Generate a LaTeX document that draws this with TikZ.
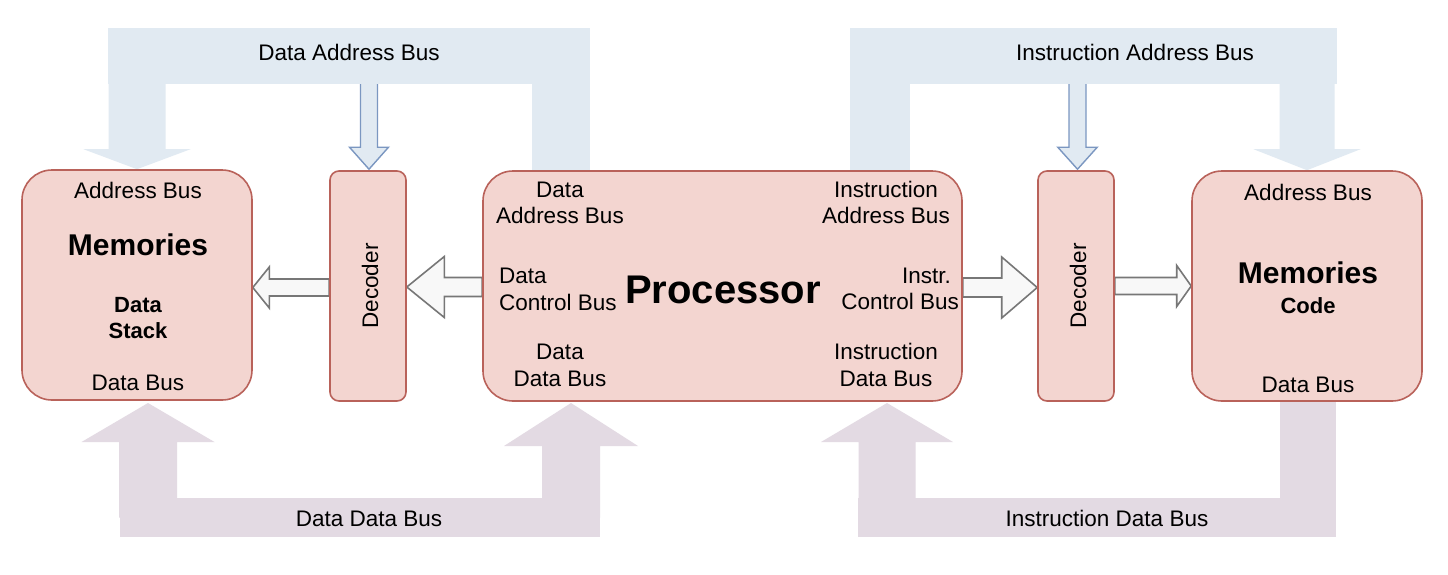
\documentclass[tikz,border=0pt]{standalone}
\usepackage{fontspec}
\setmainfont{Liberation Sans}
\usetikzlibrary{calc}
\definecolor{boxfill}{HTML}{F3D5D0}
\definecolor{boxline}{HTML}{B9625A}
\definecolor{busblue}{HTML}{E1EAF2}
\definecolor{buspurple}{HTML}{E3DAE3}
\definecolor{arrfill}{HTML}{F8F8F8}
\definecolor{arrline}{HTML}{777777}
\definecolor{decline}{HTML}{7B97C1}
\pgfdeclarelayer{paper}
\pgfdeclarelayer{lowest}
\pgfdeclarelayer{low}
\pgfsetlayers{paper,lowest,low,main}
\newcommand\vblk[6]{%
 \path[#1] ($(#3 |- #2)+(#4,0)$) -- ($(#3)+(#4,#6)$) -- ($(#3)+(#5,#6)$) -- (#3) -- ($(#3)+(-#5,#6)$) -- ($(#3)+(-#4,#6)$) -- ($(#3 |- #2)+(-#4,0)$) -- cycle;}
\newcommand\hblk[6]{%
 \path[#1] ($(#2 |- #3)+(0,-#4)$) -- ($(#3)+(#6,-#4)$) -- ($(#3)+(#6,-#5)$) -- (#3) -- ($(#3)+(#6,#5)$) -- ($(#3)+(#6,#4)$) -- ($(#2 |- #3)+(0,#4)$) -- cycle;}
\begin{document}
\begin{tikzpicture}[x=1pt,y=-1pt,
 box/.style={draw=boxline, fill=boxfill, line width=1.6pt, inner sep=0pt, minimum height=230pt},
 membox/.style={box, rounded corners=30pt, minimum width=230pt},
 decbox/.style={box, rounded corners=9pt, minimum width=76pt},
 procbox/.style={box, rounded corners=30pt, minimum width=479pt},
 txt/.style={font=\fontsize{22.5}{27}\selectfont, inner sep=0pt, anchor=base},
 btxt/.style={font=\fontsize{22}{26}\selectfont\bfseries, inner sep=0pt, anchor=base},
 mtxt/.style={font=\fontsize{30}{36}\selectfont\bfseries, inner sep=0pt, anchor=base},
 ptxt/.style={font=\fontsize{40}{48}\selectfont\bfseries, inner sep=0pt, anchor=base},
 busA/.style={fill=busblue},
 busD/.style={fill=buspurple},
 busbar/.style={inner sep=0pt, draw=none},
 midarrow/.style={draw=arrline, fill=arrfill, line width=1.6pt, line join=miter},
 decarrow/.style={draw=decline, fill=busblue, line width=1.4pt, line join=miter}]
\useasboundingbox (0,0) rectangle (1448,574);
\begin{pgfonlayer}{paper}
\fill[white] (0,0) rectangle (1448,574);
\end{pgfonlayer}

% boxes
\node[membox] (memL) at (137,285) {};
\node[decbox] (decL) at (368,286) {};
\node[procbox] (proc) at (722.5,286) {};
\node[decbox] (decR) at (1076,286) {};
\node[membox] (memR) at (1307,286) {};

\begin{pgfonlayer}{low}
% bus bars
\node[busbar, busA, minimum width=482pt, minimum height=56pt] (busDA) at (349,56) {};
\node[busbar, busA, minimum width=487pt, minimum height=56pt] (busIA) at (1093.5,56) {};
\node[busbar, busD, minimum width=480pt, minimum height=39pt] (busDD) at (360,517.5) {};
\node[busbar, busD, minimum width=478pt, minimum height=39pt] (busID) at (1097,517.5) {};
% bus legs
\vblk{busA}{busDA.center}{memL.north}{28.5}{53.5}{-20}
\fill[busA] (532,56) rectangle (590,172);
\fill[busA] (850,56) rectangle (910,172);
\vblk{busA}{busIA.center}{memR.north}{27.5}{53.5}{-21}
\coordinate (ddLt) at (148,403);
\coordinate (ddRt) at (571,403);
\coordinate (idLt) at (887,403);
\vblk{busD}{busDD.center}{ddLt}{29}{66.5}{39}
\vblk{busD}{busDD.center}{ddRt}{29}{67}{43}
\vblk{busD}{busID.center}{idLt}{28.5}{66}{39}
\fill[busD] (1280,400) rectangle (1336,518);
% horizontal block arrows
\coordinate (a1t) at ($(memL.east)+(0,2.5)$);
\coordinate (a2t) at ($(decL.east)+(0,1)$);
\coordinate (a3t) at ($(decR.west)+(0,1.5)$);
\coordinate (a4t) at ($(memR.west)+(0,0)$);
\hblk{midarrow}{decL.west}{a1t}{8.5}{20.5}{16.5}
\hblk{midarrow}{proc.west}{a2t}{9.5}{30.5}{37.5}
\hblk{midarrow}{proc.east}{a3t}{9.5}{30.5}{-35.5}
\hblk{midarrow}{decR.east}{a4t}{8.5}{20.5}{-14.5}
\end{pgfonlayer}

\begin{pgfonlayer}{lowest}
\coordinate (dAin) at ($(busDA.south)+(0,-4)$);
\coordinate (iAin) at ($(busIA.south)+(0,-4)$);
\coordinate (dLt) at ($(decL.north)+(1,-1)$);
\coordinate (dRt) at ($(decR.north)+(1.5,-1)$);
\vblk{decarrow}{dAin}{dLt}{8.5}{19.5}{-22}
\vblk{decarrow}{iAin}{dRt}{8.5}{19.75}{-22}
\end{pgfonlayer}

% bus labels
\node[txt] (tDA) at (349,60) {Data Address Bus};
\node[txt] (tIA) at (1135,60) {Instruction Address Bus};
\node[txt] (tDD) at (369,526) {Data Data Bus};
\node[txt] (tID) at (1107,526) {Instruction Data Bus};

% left memory
\node[txt] (mLa) at (138,198) {Address Bus};
\node[mtxt] (mLm) at (138,255) {Memories};
\node[btxt] (mLd) at (138,312) {Data};
\node[btxt] (mLs) at (138,338) {Stack};
\node[txt] (mLb) at (138,390) {Data Bus};

% decoders
\node[txt, rotate=90, anchor=center] (dLtxt) at (370,286) {Decoder};
\node[txt, rotate=90, anchor=center] (dRtxt) at (1078,286) {Decoder};

% processor
\node[txt] (pDA1) at (560,197) {Data};
\node[txt] (pDA2) at (560,223) {Address Bus};
\node[txt, anchor=base west] (pDC1) at (499,283) {Data};
\node[txt, anchor=base west] (pDC2) at (499,310) {Control Bus};
\node[txt] (pDD1) at (560,359) {Data};
\node[txt] (pDD2) at (560,386) {Data Bus};
\node[ptxt] (pP) at (723,303) {Processor};
\node[txt] (pIA1) at (886,197) {Instruction};
\node[txt] (pIA2) at (886,223) {Address Bus};
\node[txt, anchor=base east] (pIC1) at (951,283) {Instr.};
\node[txt, anchor=base east] (pIC2) at (959,309) {Control Bus};
\node[txt] (pID1) at (886,359) {Instruction};
\node[txt] (pID2) at (886,386) {Data Bus};

% right memory
\node[txt] (mRa) at (1308,200) {Address Bus};
\node[mtxt] (mRm) at (1308,283) {Memories};
\node[btxt] (mRc) at (1308,313) {Code};
\node[txt] (mRb) at (1308,392) {Data Bus};
\end{tikzpicture}
\end{document}
